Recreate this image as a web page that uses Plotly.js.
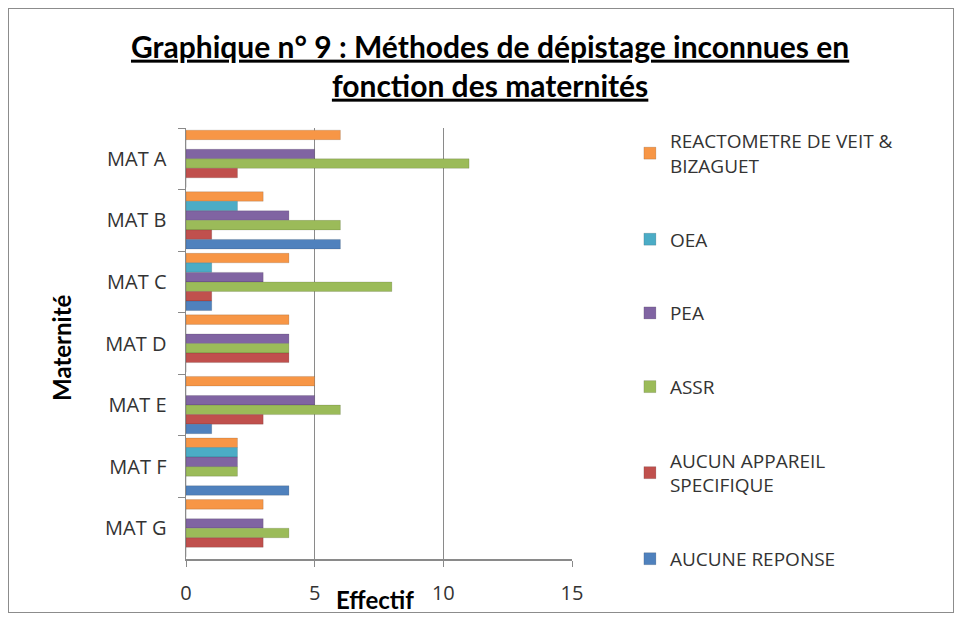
<!DOCTYPE html>
<html>
<head>
<meta charset="utf-8">
<script src="https://cdn.plot.ly/plotly-3.0.1.min.js"></script>
<style>
html,body{margin:0;padding:0;background:#fff;}
#chart{width:961px;height:620px;}
#frame{position:absolute;left:8px;top:8px;width:944px;height:603px;border:1px solid #8c8c8c;pointer-events:none;}
</style>
</head>
<body>
<div id="chart"></div>
<div id="frame"></div>
<script>
var categories = ["MAT A","MAT B","MAT C","MAT D","MAT E","MAT F","MAT G"];
var seriesNames = ["REACTOMETRE DE VEIT &<br>BIZAGUET","OEA","PEA","ASSR","AUCUN APPAREIL<br>SPECIFIQUE","AUCUNE REPONSE"];
var reactometre   = [6,3,4,4,5,2,3];
var oea           = [0,2,1,0,0,2,0];
var pea           = [5,4,3,4,5,2,3];
var assr          = [11,6,8,4,6,2,4];
var aucunAppareil = [2,1,1,4,3,0,3];
var aucuneReponse = [0,6,1,0,1,4,0];
var xTicks = [0,5,10,15];

var values = [reactometre, oea, pea, assr, aucunAppareil, aucuneReponse];
var colors = ["#F79646","#4BACC6","#8064A2","#9BBB59","#C0504D","#4F81BD"];

var traces = values.map(function(v,i){
  return {
    type:'bar', orientation:'h',
    y: categories, x: v,
    name: seriesNames[i],
    legendgroup: 'g'+i,
    marker:{color:colors[i], line:{color:'rgba(0,0,0,0.25)', width:0.5}}
  };
});

var tickFont = 'Open Sans, Lato, sans-serif';
var titleFont = 'Lato, "Open Sans", sans-serif';

var layout = {
  width:961, height:620,
  margin:{l:186, r:389, t:128, b:61},
  paper_bgcolor:'#fff', plot_bgcolor:'#fff',
  barmode:'group', bargap:0.07, bargroupgap:0,
  font:{family:tickFont, color:'#222'},
  title:{
    text:'<u>Graphique n° 9 : Méthodes de dépistage inconnues en</u><br><u>fonction des maternités</u>',
    font:{size:30, family:titleFont, weight:'bold', color:'#000'},
    x:0.51, xanchor:'center', xref:'container',
    y:0.907, yanchor:'top', yref:'container'
  },
  xaxis:{
    range:[0,15], tickvals:xTicks, ticktext:xTicks.map(String),
    showgrid:true, gridcolor:'#8a8a8a', gridwidth:1.5,
    zeroline:false, showline:true, linecolor:'#8a8a8a', linewidth:1.5,
    ticks:'outside', ticklen:6, tickcolor:'#8a8a8a',
    ticklabelstandoff:9,
    tickfont:{size:20, color:'#333', family:tickFont}
  },
  yaxis:{
    type:'category', categoryorder:'array', categoryarray:categories,
    autorange:'reversed',
    showline:true, linecolor:'#8a8a8a', linewidth:1.5,
    ticks:'outside', ticklen:7, tickcolor:'#8a8a8a', tickson:'boundaries',
    ticklabelstandoff:14,
    tickfont:{size:20, color:'#333', family:tickFont},
    showgrid:false
  },
  annotations:[
    {text:'<b>Effectif</b>', xref:'paper', yref:'paper', x:0.49, y:-0.093,
     xanchor:'center', yanchor:'middle', showarrow:false,
     font:{size:24, color:'#000', family:titleFont}},
    {text:'<b>Maternité</b>', xref:'paper', yref:'paper', x:-0.321, y:0.49,
     xanchor:'center', yanchor:'middle', showarrow:false, textangle:-90,
     font:{size:24, color:'#000', family:titleFont}}
  ],
  legend:{
    x:1.15, xanchor:'left', y:1.014, yanchor:'top',
    traceorder:'grouped', tracegroupgap:46,
    font:{size:19, color:'#333', family:tickFont},
    itemwidth:30, maxheight:600
  },
  showlegend:true
};

Plotly.newPlot('chart', traces, layout, {displayModeBar:false, staticPlot:true});
</script>
</body>
</html>
